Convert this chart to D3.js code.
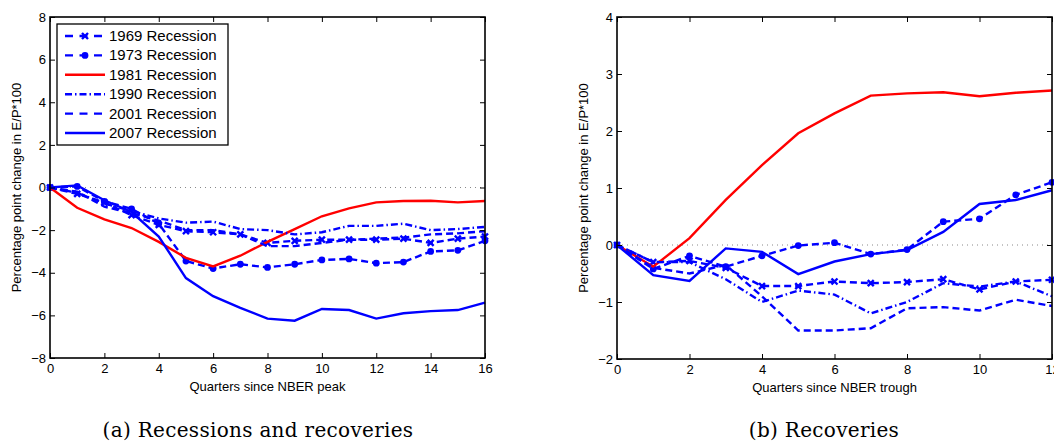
<!DOCTYPE html>
<html>
<head>
<meta charset="utf-8">
<script src="https://cdnjs.cloudflare.com/ajax/libs/d3/7.8.5/d3.min.js"></script>
<style>
  body { margin: 0; background: #fff; }
  text { font-family: "Liberation Sans", Arial, Helvetica, sans-serif; }
  .caption { font-family: "DejaVu Serif", "Liberation Serif", serif; }
</style>
</head>
<body>
<div id="chart"></div>
<script>
// quarters on the x axis
var quartersPeak = [0, 1, 2, 3, 4, 5, 6, 7, 8, 9, 10, 11, 12, 13, 14, 15, 16];
var quartersTrough = [0, 1, 2, 3, 4, 5, 6, 7, 8, 9, 10, 11, 12];

var seriesNames = ["1969 Recession", "1973 Recession", "1981 Recession",
                   "1990 Recession", "2001 Recession", "2007 Recession"];

// (a) change since NBER peak
var peak1969 = [0, -0.3, -0.7, -1.3, -1.75, -2.05, -2.1, -2.2, -2.6, -2.5, -2.45, -2.45, -2.45, -2.4, -2.6, -2.4, -2.3];
var peak1973 = [0, 0.05, -0.65, -1.0, -1.7, -3.45, -3.8, -3.6, -3.75, -3.6, -3.4, -3.35, -3.55, -3.5, -3.0, -2.95, -2.5];
var peak1981 = [0, -0.95, -1.5, -1.9, -2.55, -3.3, -3.7, -3.2, -2.55, -1.95, -1.35, -0.98, -0.7, -0.63, -0.62, -0.7, -0.63];
var peak1990 = [0, -0.25, -0.75, -1.1, -1.45, -1.65, -1.6, -1.95, -2.0, -2.2, -2.1, -1.8, -1.8, -1.7, -2.0, -1.95, -1.85];
var peak2001 = [0, -0.2, -0.9, -1.2, -1.55, -2.0, -2.0, -2.2, -2.75, -2.75, -2.6, -2.45, -2.4, -2.35, -2.2, -2.15, -2.05];
var peak2007 = [0, 0.1, -0.6, -1.15, -2.3, -4.25, -5.1, -5.65, -6.15, -6.25, -5.7, -5.75, -6.15, -5.9, -5.8, -5.75, -5.4];

// (b) change since NBER trough
var trough1969 = [0, -0.3, -0.28, -0.4, -0.72, -0.72, -0.64, -0.67, -0.65, -0.6, -0.78, -0.64, -0.61];
var trough1973 = [0, -0.42, -0.19, -0.38, -0.19, -0.01, 0.04, -0.16, -0.08, 0.41, 0.46, 0.88, 1.1];
var trough1981 = [0, -0.38, 0.12, 0.79, 1.4, 1.96, 2.31, 2.62, 2.66, 2.68, 2.61, 2.67, 2.71];
var trough1990 = [0, -0.3, -0.3, -0.6, -1.0, -0.8, -0.87, -1.2, -1.0, -0.67, -0.73, -0.64, -0.9];
var trough2001 = [0, -0.4, -0.5, -0.35, -0.9, -1.5, -1.5, -1.46, -1.11, -1.09, -1.15, -0.96, -1.07];
var trough2007 = [0, -0.53, -0.63, -0.06, -0.12, -0.51, -0.29, -0.16, -0.09, 0.23, 0.72, 0.79, 0.96];

var xTicksPeak = [0, 2, 4, 6, 8, 10, 12, 14, 16];
var yTicksPeak = [-8, -6, -4, -2, 0, 2, 4, 6, 8];
var xTicksTrough = [0, 2, 4, 6, 8, 10, 12];
var yTicksTrough = [-2, -1, 0, 1, 2, 3, 4];

// line style per recession
var styles = [
    { color: "#0000ff", dash: "7,4", marker: "x" },
    { color: "#0000ff", dash: "7,4", marker: "o" },
    { color: "#ff0000", dash: null, marker: null },
    { color: "#0000ff", dash: "7,3,1.5,3", marker: null },
    { color: "#0000ff", dash: "7,4", marker: null },
    { color: "#0000ff", dash: null, marker: null }
];

var svg = d3.select("#chart").append("svg")
    .attr("width", 1054)
    .attr("height", 448);

function fmt(d) {
    return d < 0 ? "\u2212" + Math.abs(d) : "" + d;
}

function drawPanel(opts) {
    var x = d3.scaleLinear().domain(opts.xDomain).range([opts.left, opts.right]);
    var y = d3.scaleLinear().domain(opts.yDomain).range([opts.bottom, opts.top]);
    var g = svg.append("g");

    // zero reference line
    g.append("line")
        .attr("x1", opts.left).attr("x2", opts.right)
        .attr("y1", y(0)).attr("y2", y(0))
        .attr("stroke", "#888")
        .attr("stroke-width", 1)
        .attr("stroke-dasharray", "1,4");

    var line = d3.line()
        .x(function(d) { return x(d[0]); })
        .y(function(d) { return y(d[1]); });

    opts.series.forEach(function(vals, i) {
        var st = styles[i];
        var pts = opts.xs.map(function(q, j) { return [q, vals[j]]; });
        g.append("path")
            .datum(pts)
            .attr("fill", "none")
            .attr("stroke", st.color)
            .attr("stroke-width", 2.4)
            .attr("stroke-dasharray", st.dash)
            .attr("d", line);
        if (st.marker === "o") {
            g.selectAll(null).data(pts).enter().append("circle")
                .attr("cx", function(d) { return x(d[0]); })
                .attr("cy", function(d) { return y(d[1]); })
                .attr("r", 3.4)
                .attr("fill", st.color);
        }
        if (st.marker === "x") {
            g.selectAll(null).data(pts).enter().append("path")
                .attr("d", function(d) {
                    var cx = x(d[0]), cy = y(d[1]), s = 3;
                    return "M" + (cx - s) + "," + (cy - s) + "L" + (cx + s) + "," + (cy + s) +
                           "M" + (cx - s) + "," + (cy + s) + "L" + (cx + s) + "," + (cy - s);
                })
                .attr("stroke", st.color)
                .attr("stroke-width", 2.4);
        }
    });

    // axes with inward ticks, matlab style
    var bottomAxis = d3.axisBottom(x).tickValues(opts.xTicks).tickFormat(fmt)
        .tickSizeInner(-5).tickSizeOuter(0).tickPadding(6);
    var topAxis = d3.axisTop(x).tickValues(opts.xTicks).tickFormat("")
        .tickSizeInner(-5).tickSizeOuter(0);
    var leftAxis = d3.axisLeft(y).tickValues(opts.yTicks).tickFormat(fmt)
        .tickSizeInner(-5).tickSizeOuter(0).tickPadding(4);
    var rightAxis = d3.axisRight(y).tickValues(opts.yTicks).tickFormat("")
        .tickSizeInner(-5).tickSizeOuter(0);

    var axes = [
        g.append("g").attr("transform", "translate(0," + opts.bottom + ")").call(bottomAxis),
        g.append("g").attr("transform", "translate(0," + opts.top + ")").call(topAxis),
        g.append("g").attr("transform", "translate(" + opts.left + ",0)").call(leftAxis),
        g.append("g").attr("transform", "translate(" + opts.right + ",0)").call(rightAxis)
    ];
    axes.forEach(function(a) {
        a.select(".domain").remove();
        a.selectAll("line").attr("stroke", "#000").attr("stroke-width", 1);
        a.selectAll("text").attr("font-size", 13).attr("fill", "#000")
            .style("font-family", '"Liberation Sans", Arial, sans-serif');
    });

    g.append("rect")
        .attr("x", opts.left).attr("y", opts.top)
        .attr("width", opts.right - opts.left)
        .attr("height", opts.bottom - opts.top)
        .attr("fill", "none")
        .attr("stroke", "#000")
        .attr("stroke-width", 1.6);

    g.append("text")
        .attr("x", (opts.left + opts.right) / 2)
        .attr("y", opts.bottom + 33)
        .attr("text-anchor", "middle")
        .attr("font-size", 13)
        .text(opts.xLabel);

    g.append("text")
        .attr("transform", "translate(" + (opts.left - 29) + "," + ((opts.top + opts.bottom) / 2) + ") rotate(-90)")
        .attr("text-anchor", "middle")
        .attr("font-size", 13)
        .text("Percentage point change in E/P*100");

    svg.append("text")
        .attr("class", "caption")
        .attr("x", opts.captionX)
        .attr("y", 437)
        .attr("text-anchor", "middle")
        .attr("font-size", 20)
        .attr("letter-spacing", 0.3)
        .text(opts.caption);

    return { x: x, y: y, g: g };
}

drawPanel({
    left: 50, right: 485, top: 17, bottom: 358,
    xDomain: [0, 16], yDomain: [-8, 8],
    xs: quartersPeak,
    series: [peak1969, peak1973, peak1981, peak1990, peak2001, peak2007],
    xTicks: xTicksPeak, yTicks: yTicksPeak,
    xLabel: "Quarters since NBER peak",
    caption: "(a) Recessions and recoveries", captionX: 258
});

drawPanel({
    left: 617, right: 1052, top: 17, bottom: 359,
    xDomain: [0, 12], yDomain: [-2, 4],
    xs: quartersTrough,
    series: [trough1969, trough1973, trough1981, trough1990, trough2001, trough2007],
    xTicks: xTicksTrough, yTicks: yTicksTrough,
    xLabel: "Quarters since NBER trough",
    caption: "(b) Recoveries", captionX: 824
});

// legend in panel (a)
var legend = svg.append("g").attr("transform", "translate(57,24)");
legend.append("rect")
    .attr("width", 171).attr("height", 121)
    .attr("fill", "#fff").attr("stroke", "#000").attr("stroke-width", 1.3);

seriesNames.forEach(function(name, i) {
    var st = styles[i];
    var ly = 12 + i * 19.4;
    var row = legend.append("g").attr("transform", "translate(0," + ly + ")");
    row.append("line")
        .attr("x1", 8).attr("x2", 48).attr("y1", 0).attr("y2", 0)
        .attr("stroke", st.color).attr("stroke-width", 2.4)
        .attr("stroke-dasharray", st.dash === "7,4" ? "8,6.5" : st.dash);
    if (st.marker === "o") {
        row.append("circle").attr("cx", 28).attr("cy", 0).attr("r", 3.4).attr("fill", st.color);
    }
    if (st.marker === "x") {
        row.append("path").attr("d", "M25,-3L31,3M25,3L31,-3")
            .attr("stroke", st.color).attr("stroke-width", 2.4);
    }
    row.append("text")
        .attr("x", 52).attr("y", 5)
        .attr("font-size", 15)
        .text(name);
});
</script>
</body>
</html>
